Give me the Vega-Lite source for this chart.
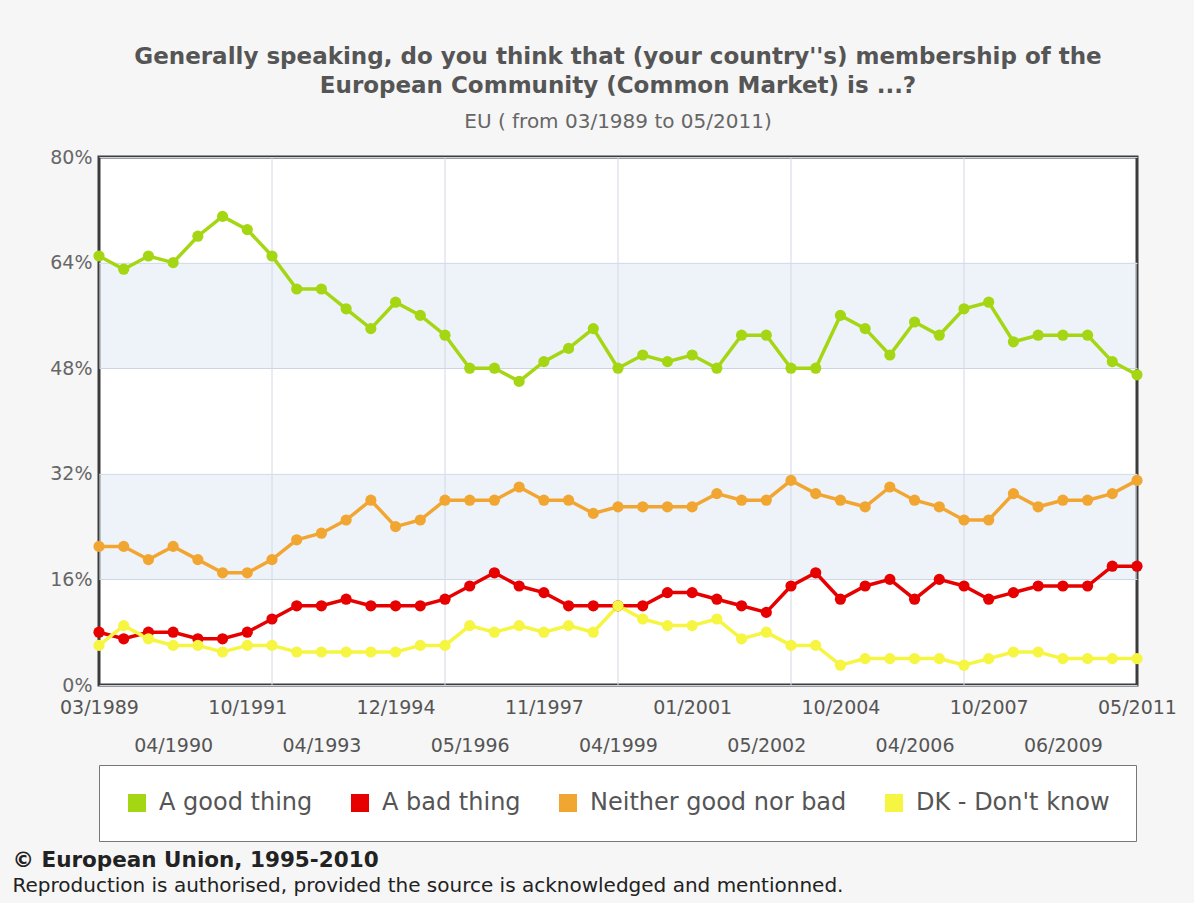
{
  "$schema": "https://vega.github.io/schema/vega-lite/v6.json",
  "width": 1038,
  "height": 528,
  "autosize": {"type": "none"},
  "padding": {"left": 99, "top": 157, "right": 57, "bottom": 218},
  "background": "#f6f6f6",
  "title": {
    "text": ["Generally speaking, do you think that (your country''s) membership of the", "European Community (Common Market) is ...?"],
    "subtitle": "EU ( from 03/1989 to 05/2011)",
    "anchor": "middle",
    "font": "DejaVu Sans",
    "fontSize": 23,
    "fontWeight": "bold",
    "color": "#555555",
    "lineHeight": 29,
    "subtitleFont": "DejaVu Sans",
    "subtitleFontSize": 20,
    "subtitleColor": "#666666",
    "subtitlePadding": 14,
    "offset": 16
  },
  "config": {
    "view": {"fill": "#ffffff", "stroke": "#3c3c3c", "strokeWidth": 3},
    "axis": {"labelFont": "DejaVu Sans", "titleFont": "DejaVu Sans"}
  },
  "datasets": {
    "survey": [
      {"date": "03/1989", "answer": "A good thing", "pct": 65},
      {"date": "06/1989", "answer": "A good thing", "pct": 63},
      {"date": "10/1989", "answer": "A good thing", "pct": 65},
      {"date": "04/1990", "answer": "A good thing", "pct": 64},
      {"date": "10/1990", "answer": "A good thing", "pct": 68},
      {"date": "04/1991", "answer": "A good thing", "pct": 71},
      {"date": "10/1991", "answer": "A good thing", "pct": 69},
      {"date": "04/1992", "answer": "A good thing", "pct": 65},
      {"date": "10/1992", "answer": "A good thing", "pct": 60},
      {"date": "04/1993", "answer": "A good thing", "pct": 60},
      {"date": "10/1993", "answer": "A good thing", "pct": 57},
      {"date": "04/1994", "answer": "A good thing", "pct": 54},
      {"date": "12/1994", "answer": "A good thing", "pct": 58},
      {"date": "04/1995", "answer": "A good thing", "pct": 56},
      {"date": "10/1995", "answer": "A good thing", "pct": 53},
      {"date": "05/1996", "answer": "A good thing", "pct": 48},
      {"date": "10/1996", "answer": "A good thing", "pct": 48},
      {"date": "04/1997", "answer": "A good thing", "pct": 46},
      {"date": "11/1997", "answer": "A good thing", "pct": 49},
      {"date": "04/1998", "answer": "A good thing", "pct": 51},
      {"date": "10/1998", "answer": "A good thing", "pct": 54},
      {"date": "04/1999", "answer": "A good thing", "pct": 48},
      {"date": "10/1999", "answer": "A good thing", "pct": 50},
      {"date": "04/2000", "answer": "A good thing", "pct": 49},
      {"date": "01/2001", "answer": "A good thing", "pct": 50},
      {"date": "04/2001", "answer": "A good thing", "pct": 48},
      {"date": "10/2001", "answer": "A good thing", "pct": 53},
      {"date": "05/2002", "answer": "A good thing", "pct": 53},
      {"date": "10/2002", "answer": "A good thing", "pct": 48},
      {"date": "10/2003", "answer": "A good thing", "pct": 48},
      {"date": "10/2004", "answer": "A good thing", "pct": 56},
      {"date": "05/2005", "answer": "A good thing", "pct": 54},
      {"date": "10/2005", "answer": "A good thing", "pct": 50},
      {"date": "04/2006", "answer": "A good thing", "pct": 55},
      {"date": "09/2006", "answer": "A good thing", "pct": 53},
      {"date": "04/2007", "answer": "A good thing", "pct": 57},
      {"date": "10/2007", "answer": "A good thing", "pct": 58},
      {"date": "04/2008", "answer": "A good thing", "pct": 52},
      {"date": "10/2008", "answer": "A good thing", "pct": 53},
      {"date": "06/2009", "answer": "A good thing", "pct": 53},
      {"date": "11/2009", "answer": "A good thing", "pct": 53},
      {"date": "05/2010", "answer": "A good thing", "pct": 49},
      {"date": "05/2011", "answer": "A good thing", "pct": 47},
      {"date": "03/1989", "answer": "A bad thing", "pct": 8},
      {"date": "06/1989", "answer": "A bad thing", "pct": 7},
      {"date": "10/1989", "answer": "A bad thing", "pct": 8},
      {"date": "04/1990", "answer": "A bad thing", "pct": 8},
      {"date": "10/1990", "answer": "A bad thing", "pct": 7},
      {"date": "04/1991", "answer": "A bad thing", "pct": 7},
      {"date": "10/1991", "answer": "A bad thing", "pct": 8},
      {"date": "04/1992", "answer": "A bad thing", "pct": 10},
      {"date": "10/1992", "answer": "A bad thing", "pct": 12},
      {"date": "04/1993", "answer": "A bad thing", "pct": 12},
      {"date": "10/1993", "answer": "A bad thing", "pct": 13},
      {"date": "04/1994", "answer": "A bad thing", "pct": 12},
      {"date": "12/1994", "answer": "A bad thing", "pct": 12},
      {"date": "04/1995", "answer": "A bad thing", "pct": 12},
      {"date": "10/1995", "answer": "A bad thing", "pct": 13},
      {"date": "05/1996", "answer": "A bad thing", "pct": 15},
      {"date": "10/1996", "answer": "A bad thing", "pct": 17},
      {"date": "04/1997", "answer": "A bad thing", "pct": 15},
      {"date": "11/1997", "answer": "A bad thing", "pct": 14},
      {"date": "04/1998", "answer": "A bad thing", "pct": 12},
      {"date": "10/1998", "answer": "A bad thing", "pct": 12},
      {"date": "04/1999", "answer": "A bad thing", "pct": 12},
      {"date": "10/1999", "answer": "A bad thing", "pct": 12},
      {"date": "04/2000", "answer": "A bad thing", "pct": 14},
      {"date": "01/2001", "answer": "A bad thing", "pct": 14},
      {"date": "04/2001", "answer": "A bad thing", "pct": 13},
      {"date": "10/2001", "answer": "A bad thing", "pct": 12},
      {"date": "05/2002", "answer": "A bad thing", "pct": 11},
      {"date": "10/2002", "answer": "A bad thing", "pct": 15},
      {"date": "10/2003", "answer": "A bad thing", "pct": 17},
      {"date": "10/2004", "answer": "A bad thing", "pct": 13},
      {"date": "05/2005", "answer": "A bad thing", "pct": 15},
      {"date": "10/2005", "answer": "A bad thing", "pct": 16},
      {"date": "04/2006", "answer": "A bad thing", "pct": 13},
      {"date": "09/2006", "answer": "A bad thing", "pct": 16},
      {"date": "04/2007", "answer": "A bad thing", "pct": 15},
      {"date": "10/2007", "answer": "A bad thing", "pct": 13},
      {"date": "04/2008", "answer": "A bad thing", "pct": 14},
      {"date": "10/2008", "answer": "A bad thing", "pct": 15},
      {"date": "06/2009", "answer": "A bad thing", "pct": 15},
      {"date": "11/2009", "answer": "A bad thing", "pct": 15},
      {"date": "05/2010", "answer": "A bad thing", "pct": 18},
      {"date": "05/2011", "answer": "A bad thing", "pct": 18},
      {"date": "03/1989", "answer": "Neither good nor bad", "pct": 21},
      {"date": "06/1989", "answer": "Neither good nor bad", "pct": 21},
      {"date": "10/1989", "answer": "Neither good nor bad", "pct": 19},
      {"date": "04/1990", "answer": "Neither good nor bad", "pct": 21},
      {"date": "10/1990", "answer": "Neither good nor bad", "pct": 19},
      {"date": "04/1991", "answer": "Neither good nor bad", "pct": 17},
      {"date": "10/1991", "answer": "Neither good nor bad", "pct": 17},
      {"date": "04/1992", "answer": "Neither good nor bad", "pct": 19},
      {"date": "10/1992", "answer": "Neither good nor bad", "pct": 22},
      {"date": "04/1993", "answer": "Neither good nor bad", "pct": 23},
      {"date": "10/1993", "answer": "Neither good nor bad", "pct": 25},
      {"date": "04/1994", "answer": "Neither good nor bad", "pct": 28},
      {"date": "12/1994", "answer": "Neither good nor bad", "pct": 24},
      {"date": "04/1995", "answer": "Neither good nor bad", "pct": 25},
      {"date": "10/1995", "answer": "Neither good nor bad", "pct": 28},
      {"date": "05/1996", "answer": "Neither good nor bad", "pct": 28},
      {"date": "10/1996", "answer": "Neither good nor bad", "pct": 28},
      {"date": "04/1997", "answer": "Neither good nor bad", "pct": 30},
      {"date": "11/1997", "answer": "Neither good nor bad", "pct": 28},
      {"date": "04/1998", "answer": "Neither good nor bad", "pct": 28},
      {"date": "10/1998", "answer": "Neither good nor bad", "pct": 26},
      {"date": "04/1999", "answer": "Neither good nor bad", "pct": 27},
      {"date": "10/1999", "answer": "Neither good nor bad", "pct": 27},
      {"date": "04/2000", "answer": "Neither good nor bad", "pct": 27},
      {"date": "01/2001", "answer": "Neither good nor bad", "pct": 27},
      {"date": "04/2001", "answer": "Neither good nor bad", "pct": 29},
      {"date": "10/2001", "answer": "Neither good nor bad", "pct": 28},
      {"date": "05/2002", "answer": "Neither good nor bad", "pct": 28},
      {"date": "10/2002", "answer": "Neither good nor bad", "pct": 31},
      {"date": "10/2003", "answer": "Neither good nor bad", "pct": 29},
      {"date": "10/2004", "answer": "Neither good nor bad", "pct": 28},
      {"date": "05/2005", "answer": "Neither good nor bad", "pct": 27},
      {"date": "10/2005", "answer": "Neither good nor bad", "pct": 30},
      {"date": "04/2006", "answer": "Neither good nor bad", "pct": 28},
      {"date": "09/2006", "answer": "Neither good nor bad", "pct": 27},
      {"date": "04/2007", "answer": "Neither good nor bad", "pct": 25},
      {"date": "10/2007", "answer": "Neither good nor bad", "pct": 25},
      {"date": "04/2008", "answer": "Neither good nor bad", "pct": 29},
      {"date": "10/2008", "answer": "Neither good nor bad", "pct": 27},
      {"date": "06/2009", "answer": "Neither good nor bad", "pct": 28},
      {"date": "11/2009", "answer": "Neither good nor bad", "pct": 28},
      {"date": "05/2010", "answer": "Neither good nor bad", "pct": 29},
      {"date": "05/2011", "answer": "Neither good nor bad", "pct": 31},
      {"date": "03/1989", "answer": "DK - Don't know", "pct": 6},
      {"date": "06/1989", "answer": "DK - Don't know", "pct": 9},
      {"date": "10/1989", "answer": "DK - Don't know", "pct": 7},
      {"date": "04/1990", "answer": "DK - Don't know", "pct": 6},
      {"date": "10/1990", "answer": "DK - Don't know", "pct": 6},
      {"date": "04/1991", "answer": "DK - Don't know", "pct": 5},
      {"date": "10/1991", "answer": "DK - Don't know", "pct": 6},
      {"date": "04/1992", "answer": "DK - Don't know", "pct": 6},
      {"date": "10/1992", "answer": "DK - Don't know", "pct": 5},
      {"date": "04/1993", "answer": "DK - Don't know", "pct": 5},
      {"date": "10/1993", "answer": "DK - Don't know", "pct": 5},
      {"date": "04/1994", "answer": "DK - Don't know", "pct": 5},
      {"date": "12/1994", "answer": "DK - Don't know", "pct": 5},
      {"date": "04/1995", "answer": "DK - Don't know", "pct": 6},
      {"date": "10/1995", "answer": "DK - Don't know", "pct": 6},
      {"date": "05/1996", "answer": "DK - Don't know", "pct": 9},
      {"date": "10/1996", "answer": "DK - Don't know", "pct": 8},
      {"date": "04/1997", "answer": "DK - Don't know", "pct": 9},
      {"date": "11/1997", "answer": "DK - Don't know", "pct": 8},
      {"date": "04/1998", "answer": "DK - Don't know", "pct": 9},
      {"date": "10/1998", "answer": "DK - Don't know", "pct": 8},
      {"date": "04/1999", "answer": "DK - Don't know", "pct": 12},
      {"date": "10/1999", "answer": "DK - Don't know", "pct": 10},
      {"date": "04/2000", "answer": "DK - Don't know", "pct": 9},
      {"date": "01/2001", "answer": "DK - Don't know", "pct": 9},
      {"date": "04/2001", "answer": "DK - Don't know", "pct": 10},
      {"date": "10/2001", "answer": "DK - Don't know", "pct": 7},
      {"date": "05/2002", "answer": "DK - Don't know", "pct": 8},
      {"date": "10/2002", "answer": "DK - Don't know", "pct": 6},
      {"date": "10/2003", "answer": "DK - Don't know", "pct": 6},
      {"date": "10/2004", "answer": "DK - Don't know", "pct": 3},
      {"date": "05/2005", "answer": "DK - Don't know", "pct": 4},
      {"date": "10/2005", "answer": "DK - Don't know", "pct": 4},
      {"date": "04/2006", "answer": "DK - Don't know", "pct": 4},
      {"date": "09/2006", "answer": "DK - Don't know", "pct": 4},
      {"date": "04/2007", "answer": "DK - Don't know", "pct": 3},
      {"date": "10/2007", "answer": "DK - Don't know", "pct": 4},
      {"date": "04/2008", "answer": "DK - Don't know", "pct": 5},
      {"date": "10/2008", "answer": "DK - Don't know", "pct": 5},
      {"date": "06/2009", "answer": "DK - Don't know", "pct": 4},
      {"date": "11/2009", "answer": "DK - Don't know", "pct": 4},
      {"date": "05/2010", "answer": "DK - Don't know", "pct": 4},
      {"date": "05/2011", "answer": "DK - Don't know", "pct": 4}
    ],
    "bands": [
      {"lo": 16, "hi": 32},
      {"lo": 48, "hi": 64}
    ]
  },
  "layer": [
    {
      "data": {"name": "bands"},
      "mark": {"type": "rect", "color": "#dde7f4", "opacity": 0.5},
      "encoding": {
        "y": {
          "field": "lo", "type": "quantitative",
          "title": "Reproduction is authorised, provided the source is acknowledged and mentionned.",
          "scale": {"domain": [0, 80], "nice": false, "zero": true}
        },
        "y2": {"field": "hi"}
      }
    },
    {
      "data": {"name": "survey"},
      "transform": [
        {"filter": "datum.answer === 'A good thing'"},
        {"filter": {"field": "date", "oneOf": ["04/1992", "10/1995", "04/1999", "10/2002", "04/2007"]}}
      ],
      "mark": {"type": "rule", "color": "#d2dae6", "strokeWidth": 1},
      "encoding": {
        "x": {"field": "date", "type": "ordinal", "title": "© European Union, 1995-2010"}
      }
    },
    {
      "data": {"name": "survey"},
      "mark": {"type": "line", "strokeWidth": 3.5, "point": {"filled": true, "size": 125, "opacity": 1}},
      "encoding": {
        "x": {
          "field": "date", "type": "ordinal",
          "title": "© European Union, 1995-2010",
          "scale": {
            "type": "point", "padding": 0,
            "domain": ["03/1989", "06/1989", "10/1989", "04/1990", "10/1990", "04/1991", "10/1991", "04/1992", "10/1992", "04/1993", "10/1993", "04/1994", "12/1994", "04/1995", "10/1995", "05/1996", "10/1996", "04/1997", "11/1997", "04/1998", "10/1998", "04/1999", "10/1999", "04/2000", "01/2001", "04/2001", "10/2001", "05/2002", "10/2002", "10/2003", "10/2004", "05/2005", "10/2005", "04/2006", "09/2006", "04/2007", "10/2007", "04/2008", "10/2008", "06/2009", "11/2009", "05/2010", "05/2011"]
          },
          "axis": {
            "values": ["03/1989", "04/1990", "10/1991", "04/1993", "12/1994", "05/1996", "11/1997", "04/1999", "01/2001", "05/2002", "10/2004", "04/2006", "10/2007", "06/2009", "05/2011"],
            "labelExpr": "indexof(['04/1990','04/1993','05/1996','04/1999','05/2002','04/2006','06/2009'], datum.value) >= 0 ? ['', datum.value] : datum.value",
            "labelAngle": 0,
            "labelAlign": "center",
            "labelFlush": false,
            "labelLineHeight": 38,
            "labelOverlap": false,
            "labelFontSize": 19,
            "labelColor": "#555555",
            "labelPadding": 22,
            "ticks": false,
            "domain": false,
            "grid": false,
            "titleX": -87,
            "titleY": 175,
            "titleAlign": "left",
            "titleBaseline": "middle",
            "titleFontSize": 21.5,
            "titleFontWeight": "bold",
            "titleColor": "#222222"
          }
        },
        "y": {
          "field": "pct", "type": "quantitative",
          "title": "Reproduction is authorised, provided the source is acknowledged and mentionned.",
          "scale": {"domain": [0, 80], "nice": false, "zero": true},
          "axis": {
            "values": [0, 16, 32, 48, 64, 80],
            "labelExpr": "datum.value + '%'",
            "grid": true,
            "gridColor": "#cad3df",
            "ticks": false,
            "domain": false,
            "labelFontSize": 19,
            "labelColor": "#666666",
            "labelPadding": 7,
            "titleX": -87,
            "titleY": 728,
            "titleAngle": 0,
            "titleAlign": "left",
            "titleBaseline": "middle",
            "titleFontSize": 20,
            "titleFontWeight": "normal",
            "titleColor": "#222222"
          }
        },
        "color": {
          "field": "answer", "type": "nominal",
          "scale": {
            "domain": ["A good thing", "A bad thing", "Neither good nor bad", "DK - Don't know"],
            "range": ["#a5d613", "#e60000", "#f2a632", "#f5f542"]
          },
          "legend": {
            "orient": "none",
            "legendX": 0,
            "legendY": 608,
            "direction": "horizontal",
            "title": null,
            "symbolType": "square",
            "symbolSize": 324,
            "symbolStrokeWidth": 0,
            "labelFont": "DejaVu Sans",
            "labelFontSize": 24,
            "labelColor": "#555555",
            "labelOffset": 10,
            "labelLimit": 400,
            "columnPadding": 35,
            "padding": 26,
            "fillColor": "#ffffff",
            "strokeColor": "#777777",
            "encode": {
              "symbols": {"update": {"fill": {"scale": "color", "field": "value"}, "stroke": {"value": "transparent"}, "opacity": {"value": 1}}}
            }
          }
        }
      }
    }
  ]
}
